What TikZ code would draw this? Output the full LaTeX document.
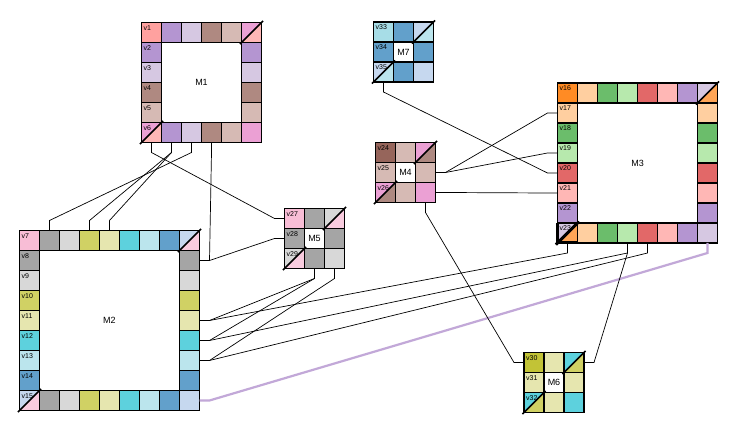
\documentclass[tikz,border=0pt]{standalone}
\usepackage{fontspec}
\setmainfont{Liberation Sans}
\usetikzlibrary{calc}
\definecolor{t01}{HTML}{1F77B4}
\definecolor{t02}{HTML}{AEC7E8}
\definecolor{t03}{HTML}{FF7F0E}
\definecolor{t04}{HTML}{FFBB78}
\definecolor{t05}{HTML}{2CA02C}
\definecolor{t06}{HTML}{98DF8A}
\definecolor{t07}{HTML}{D62728}
\definecolor{t08}{HTML}{FF9896}
\definecolor{t09}{HTML}{9467BD}
\definecolor{t10}{HTML}{C5B0D5}
\definecolor{t11}{HTML}{8C564B}
\definecolor{t12}{HTML}{C49C94}
\definecolor{t13}{HTML}{E377C2}
\definecolor{t14}{HTML}{F7B6D2}
\definecolor{t15}{HTML}{7F7F7F}
\definecolor{t16}{HTML}{C7C7C7}
\definecolor{t17}{HTML}{BCBD22}
\definecolor{t18}{HTML}{DBDB8D}
\definecolor{t19}{HTML}{17BECF}
\definecolor{t20}{HTML}{9EDAE5}
\definecolor{lavc}{HTML}{C2A8D8}
\tikzset{
  cellbox/.style={draw=black, line width=1.6pt, minimum size=20pt, inner sep=0pt, outer sep=0pt, shape=rectangle},
  cellline/.style={draw=black, line width=1.6pt},
  vlab/.style={font=\fontsize{7}{8}\selectfont, inner sep=0pt, anchor=north west},
  mlab/.style={font=\fontsize{9}{10}\selectfont, inner sep=0pt},
  conn/.style={draw=black, line width=0.7pt},
  lav/.style={draw=lavc, line width=2.2pt},
}
\newcommand\splitcell[4]{%
  \node[cellbox] (#1) at (#2) {};
  \fill[#3!70!white] (#1.south west) -- (#1.north west) -- (#1.north east) -- cycle;
  \fill[#4!70!white] (#1.south west) -- (#1.south east) -- (#1.north east) -- cycle;
  \draw[cellline] (#1.south west) rectangle (#1.north east);
  \draw[cellline] ($(#1.south west)!-0.08!(#1.north east)$) -- ($(#1.north east)!-0.08!(#1.south west)$);
}
\newcommand\ringmat[6]{%
  \foreach \cc [count=\k from 0] in {#6} {\xglobal\colorlet{#1c\k}{\cc}}%
  \pgfmathtruncatemacro\nl{#4-1}%
  \pgfmathtruncatemacro\nm{#4-2}%
  \node[cellbox, fill=#1c0!91!white] (#1-0-0) at ({#2+10},{#3+10}) {};
  \foreach \j in {1,...,\nm} {%
    \node[cellbox, fill=#1c\j!70!white] (#1-0-\j) at ({#2+20*\j+10},{#3+10}) {};
    \node[cellbox, fill=#1c\j!70!white] (#1-\nl-\j) at ({#2+20*\j+10},{#3+20*\nl+10}) {};
    \node[cellbox, fill=#1c\j!70!white] (#1-\j-0) at ({#2+10},{#3+20*\j+10}) {};
    \node[cellbox, fill=#1c\j!70!white] (#1-\j-\nl) at ({#2+20*\nl+10},{#3+20*\j+10}) {};
  }
  \node[cellbox, fill=#1c\nl!70!white] (#1-\nl-\nl) at ({#2+20*\nl+10},{#3+20*\nl+10}) {};
  \splitcell{#1-0-\nl}{{#2+20*\nl+10},{#3+10}}{#1c\nl}{#1c0}
  \splitcell{#1-\nl-0}{{#2+10},{#3+20*\nl+10}}{#1c\nl}{#1c0}
  \foreach \r in {0,...,\nl} {%
    \pgfmathtruncatemacro\vv{#5+\r}%
    \node[vlab] (#1-lab\r) at ([shift={(2,2.5)}]#1-\r-0.north west) {v\vv};
  }
  \node[mlab] (#1-name) at ({#2+10*#4},{#3+10*#4}) {#1};
}
\begin{document}
\begin{tikzpicture}[x=1pt,y=-1pt]
\fill[white] (0,0) rectangle (748,427);
\useasboundingbox (0,0) rectangle (748,427);
\ringmat{M1}{141.5}{22.5}{6}{1}{t08,t09,t10,t11,t12,t13}
\ringmat{M2}{19.5}{230.5}{9}{7}{t14,t15,t16,t17,t18,t19,t20,t01,t02}
\ringmat{M3}{557.5}{83}{8}{16}{t03,t04,t05,t06,t07,t08,t09,t10}
\ringmat{M4}{375.5}{142.5}{3}{24}{t11,t12,t13}
\ringmat{M5}{284.5}{208.5}{3}{27}{t14,t15,t16}
\ringmat{M6}{524}{352.5}{3}{30}{t17,t18,t19}
\ringmat{M7}{373.5}{22}{3}{33}{t20,t01,t02}
% heavy outline of the v23 corner cell
\draw[line width=3pt] (M3-7-0.north west) -- (M3-7-0.south west) -- (M3-7-0.south east);
\draw[line width=3pt] ($(M3-7-0.south west)!-0.08!(M3-7-0.north east)$) -- (M3-7-0.north east);
% connectors
\draw[conn] (M1-5-0.south) -- ++(0,10) -- ([shift={(-10,0)}]M5-0-0.west) -- (M5-0-0.west);
\draw[conn] (M1-5-1.south) -- ++(0,10) -- ([shift={(0,-10)}]M2-0-3.north) -- (M2-0-3.north);
\draw[conn] (M1-5-1.south) -- ++(0,10) -- ([shift={(0,-10)}]M2-0-4.north) -- (M2-0-4.north);
\draw[conn] (M1-5-2.south) -- ++(0,10) -- ([shift={(0,-10)}]M2-0-1.north) -- (M2-0-1.north);
\draw[conn] (M1-5-3.south) -- ++(0,10) -- ([shift={(10,0)}]M2-1-8.east) -- (M2-1-8.east);
\draw[conn] (M2-1-8.east) -- ++(10,0) -- ([shift={(-10,0)}]M5-1-0.west) -- (M5-1-0.west);
\draw[conn] (M5-2-1.south) -- ++(0,10) -- ([shift={(10,0)}]M2-4-8.east) -- (M2-4-8.east);
\draw[conn] (M5-2-1.south) -- ++(0,10) -- ([shift={(10,0)}]M2-5-8.east) -- (M2-5-8.east);
\draw[conn] (M5-2-2.south) -- ++(0,10) -- ([shift={(10,0)}]M2-6-8.east) -- (M2-6-8.east);
\draw[conn] (M2-4-8.east) -- ++(10,0) -- ([shift={(0,10)}]M3-7-0.south) -- (M3-7-0.south);
\draw[conn] (M2-5-8.east) -- ++(10,0) -- ([shift={(0,10)}]M3-7-3.south) -- (M3-7-3.south);
\draw[conn] (M2-6-8.east) -- ++(10,0) -- ([shift={(0,10)}]M3-7-4.south) -- (M3-7-4.south);
\draw[lav] (M2-8-8.east) -- ++(10,0) -- ([shift={(0,10)}]M3-7-7.south) -- (M3-7-7.south);
\draw[conn] (M4-1-2.east) -- ++(10,0) -- ([shift={(-10,0)}]M3-1-0.west) -- (M3-1-0.west);
\draw[conn] (M4-1-2.east) -- ++(10,0) -- ([shift={(-10,0)}]M3-3-0.west) -- (M3-3-0.west);
\draw[conn] (M4-2-2.east) -- ++(10,0) -- ([shift={(-10,0)}]M3-5-0.west) -- (M3-5-0.west);
\draw[conn] (M7-2-0.south) -- ++(0,10) -- ([shift={(-10,0)}]M3-4-0.west) -- (M3-4-0.west);
\draw[conn] (M4-2-2.south) -- ++(0,10) -- ([shift={(-10,0)}]M6-0-0.west) -- (M6-0-0.west);
\draw[conn] (M6-0-2.east) -- ++(10,0) -- ([shift={(0,10)}]M3-7-3.south) -- (M3-7-3.south);
\end{tikzpicture}
\end{document}
